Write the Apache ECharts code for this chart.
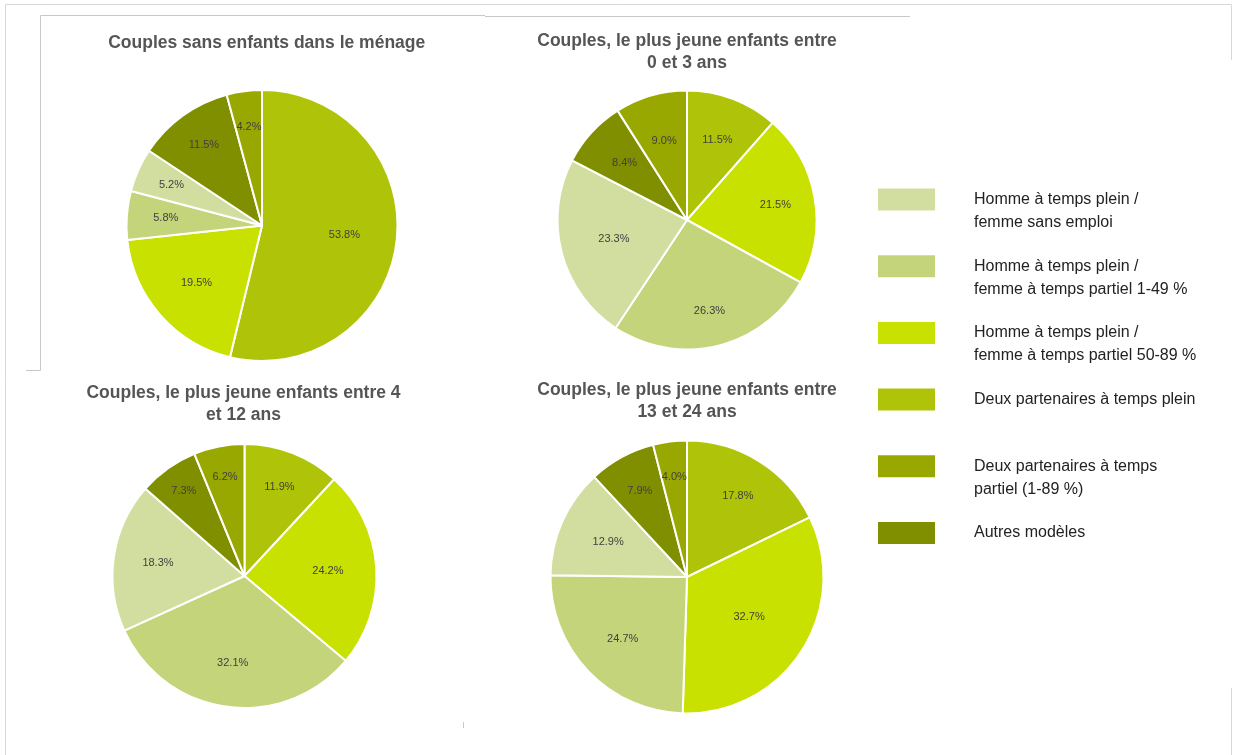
<!DOCTYPE html>
<html>
<head>
<meta charset="utf-8">
<script src="https://cdn.jsdelivr.net/npm/echarts@6/dist/echarts.min.js"></script>
<style>
html,body{margin:0;padding:0;background:#fff;}
#chart{width:1234px;height:755px;}
</style>
</head>
<body>
<div id="chart"></div>
<script>
// ---- Data ----
const categories = [
  'Homme à temps plein /\nfemme sans emploi',
  'Homme à temps plein /\nfemme à temps partiel 1-49 %',
  'Homme à temps plein /\nfemme à temps partiel 50-89 %',
  'Deux partenaires à temps plein',
  'Deux partenaires à temps\npartiel (1-89 %)',
  'Autres modèles'
];
const chartTitles = [
  'Couples sans enfants dans le ménage',
  'Couples, le plus jeune enfants entre\n0 et 3 ans',
  'Couples, le plus jeune enfants entre 4\net 12 ans',
  'Couples, le plus jeune enfants entre\n13 et 24 ans'
];
// values in % in category order
const sansEnfants   = [5.2, 5.8, 19.5, 53.8, 4.2, 11.5];
const enfants0a3    = [23.3, 26.3, 21.5, 11.5, 9.0, 8.4];
const enfants4a12   = [18.3, 32.1, 24.2, 11.9, 6.2, 7.3];
const enfants13a24  = [12.9, 24.7, 32.7, 17.8, 4.0, 7.9];
const allValues = [sansEnfants, enfants0a3, enfants4a12, enfants13a24];

// ---- Styles / layout ----
const colors = ['#d2dea0', '#c4d47a', '#c8e100', '#afc409', '#98a800', '#7f8f00'];
const sliceOrder = [3, 2, 1, 0, 5, 4]; // clockwise from 12 o'clock
const pieCenters = [[262, 225.5], [687, 220], [244.5, 576], [687, 577]];
const pieRadii = [135.5, 129.5, 132, 136.5];
const titlePos = [[266.7, 31.7], [687, 29.7], [243.5, 382.3], [687, 379.3]];
// label radial position as a fraction of the radius, in slice order
const labelFrac = [
  [0.59, 0.62, 0.69, 0.71, 0.71, 0.71],
  [0.64, 0.67, 0.70, 0.56, 0.63, 0.61],
  [0.70, 0.61, 0.64, 0.64, 0.77, 0.74],
  [0.68, 0.52, 0.63, 0.61, 0.70, 0.72]
];

const series = [];
allValues.forEach((vals, c) => {
  series.push({
    type: 'pie',
    center: pieCenters[c],
    radius: pieRadii[c],
    startAngle: 90,
    clockwise: true,
    avoidLabelOverlap: false,
    label: {show: false},
    labelLine: {show: false},
    emphasis: {disabled: true},
    itemStyle: {borderColor: '#ffffff', borderWidth: 2},
    data: sliceOrder.map(ci => ({name: categories[ci], value: vals[ci], itemStyle: {color: colors[ci]}}))
  });
});
// label carriers (transparent rings, one per slice) place the percentage text
allValues.forEach((vals, c) => {
  sliceOrder.forEach((ciK, k) => {
    const r = pieRadii[c];
    const f = labelFrac[c][k];
    series.push({
      type: 'pie',
      center: pieCenters[c],
      radius: [r * (2 * f - 1), r],
      startAngle: 90,
      clockwise: true,
      silent: true,
      avoidLabelOverlap: false,
      emphasis: {disabled: true},
      labelLine: {show: false},
      itemStyle: {color: 'rgba(0,0,0,0)', borderWidth: 0},
      data: sliceOrder.map((ci, j) => ({
        name: categories[ci],
        value: vals[ci],
        label: {
          show: j === k,
          position: 'inside',
          formatter: p => p.value.toFixed(1) + '%',
          color: '#3f3f3f',
          fontFamily: 'Liberation Sans, Arial, sans-serif',
          fontSize: 11
        }
      }))
    });
  });
});

const titles = chartTitles.map((t, i) => ({
  text: t,
  left: titlePos[i][0],
  top: titlePos[i][1],
  textAlign: 'center',
  padding: 0,
  textStyle: {
    fontFamily: 'Liberation Sans, Arial, sans-serif',
    fontWeight: 'bold',
    fontSize: 17.5,
    lineHeight: 22,
    color: '#555'
  }
}));

const lineStyleLight = {stroke: '#d8d8d8', lineWidth: 1};
const lineStyleMid = {stroke: '#c8c8c8', lineWidth: 1};
const frame = [
  [5.5, 4.5, 1231.5, 4.5, lineStyleLight],
  [5.5, 4.5, 5.5, 755, lineStyleLight],
  [1231.5, 4.5, 1231.5, 60, lineStyleLight],
  [1231.5, 688, 1231.5, 755, lineStyleLight],
  [40.5, 15.5, 485, 15.5, lineStyleMid],
  [485, 16.5, 910, 16.5, lineStyleMid],
  [40.5, 15.5, 40.5, 370.5, lineStyleMid],
  [26, 370.5, 40.5, 370.5, lineStyleMid],
  [463.5, 722, 463.5, 728, lineStyleMid]
].map(l => ({type: 'line', silent: true, shape: {x1: l[0], y1: l[1], x2: l[2], y2: l[3]}, style: l[4]}));

const isTwoLine = n => n.indexOf('\n') >= 0;

const option = {
  animation: false,
  backgroundColor: '#ffffff',
  title: titles,
  legend: {
    orient: 'vertical',
    left: 876,
    top: 165,
    padding: 0,
    itemGap: -2.3,
    itemWidth: 59,
    itemHeight: 24,
    icon: 'rect',
    selectedMode: false,
    formatter: n => (isTwoLine(n) ? '\n' + n : n),
    textStyle: {
      fontFamily: 'Liberation Sans, Arial, sans-serif',
      fontSize: 16,
      lineHeight: 23,
      color: '#222'
    },
    data: categories.map(n => ({
      name: n,
      textStyle: {padding: isTwoLine(n) ? [0, 0, 0, 33] : [23, 0, 23, 33]}
    }))
  },
  graphic: frame,
  series: series
};

const chart = echarts.init(document.getElementById('chart'), null, {renderer: 'canvas'});
chart.setOption(option);
</script>
</body>
</html>
